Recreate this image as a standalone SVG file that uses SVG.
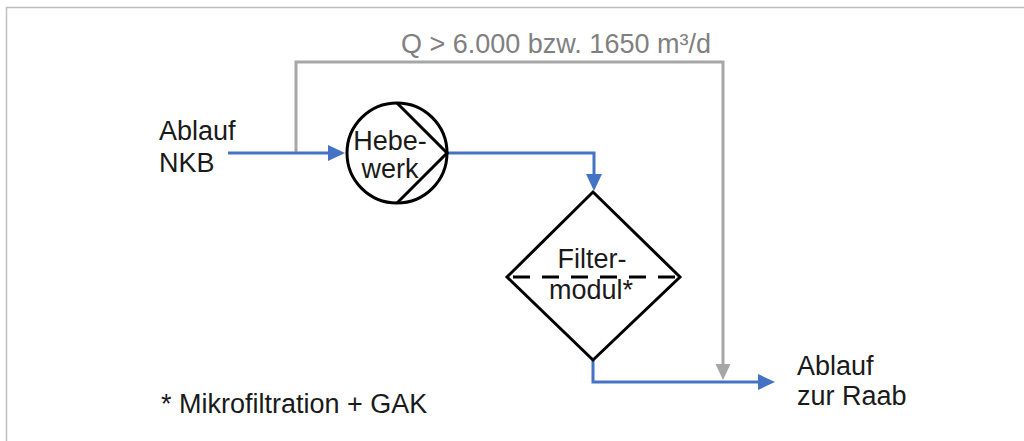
<svg xmlns="http://www.w3.org/2000/svg" width="1024" height="441" viewBox="0 0 1024 441">
  <style>
    text { font-family: "Liberation Sans", Arial, sans-serif; font-size: 27px; fill: #1a1a1a; }
    .mid { text-anchor: middle; }
    .gray-t { fill: #808080; }
    .shape { fill: #ffffff; stroke: #000000; stroke-width: 3; }
    .blue { fill: none; stroke: #4472c4; stroke-width: 3; }
    .gray { fill: none; stroke: #a6a6a6; stroke-width: 3; }
  </style>
  <defs>
    <marker id="ab" markerUnits="userSpaceOnUse" markerWidth="18" markerHeight="16" refX="0" refY="8" orient="auto" overflow="visible">
      <path d="M0,0 L17,8 L0,16 z" fill="#4472c4"/>
    </marker>
    <marker id="ag" markerUnits="userSpaceOnUse" markerWidth="16" markerHeight="15" refX="0" refY="7.5" orient="auto" overflow="visible">
      <path d="M0,0 L16,7.5 L0,15 z" fill="#a6a6a6"/>
    </marker>
  </defs>
  <rect x="0" y="0" width="1024" height="441" fill="#ffffff"/>
  <rect x="6.5" y="7.5" width="1100" height="500" fill="none" stroke="#bfbfbf" stroke-width="1.5"/>

  <g id="connectors">
    <path class="gray" d="M296,153 V62 H723 V364" marker-end="url(#ag)"/>
    <path class="blue" d="M228,153 H328" marker-end="url(#ab)"/>
    <path class="blue" d="M448,153 H594 V174" marker-end="url(#ab)"/>
    <path class="blue" d="M593,360 V382 H758" marker-end="url(#ab)"/>
  </g>

  <g id="bypass-label">
    <text class="gray-t" x="401" y="53">Q &gt; 6.000 bzw. 1650 m³/d</text>
  </g>

  <g id="inlet">
    <text x="159" y="140">Ablauf</text>
    <text x="159" y="172">NKB</text>
  </g>

  <g id="hebewerk">
    <circle class="shape" cx="397" cy="153" r="50"/>
    <path d="M397,103 L447,153 L397,203" fill="none" stroke="#000000" stroke-width="3"/>
    <text class="mid" x="390" y="150">Hebe-</text>
    <text class="mid" x="390" y="178">werk</text>
  </g>

  <g id="filtermodul">
    <path class="shape" d="M593,192 L680,277 L593,360 L507,277 z"/>
    <line x1="509" y1="277" x2="679" y2="277" stroke="#000000" stroke-width="3" stroke-dasharray="17 12" stroke-dashoffset="-4"/>
    <text class="mid" x="592" y="268">Filter-</text>
    <text class="mid" x="591" y="299">modul*</text>
  </g>

  <g id="outlet">
    <text x="797" y="375">Ablauf</text>
    <text x="797" y="405">zur Raab</text>
  </g>

  <g id="footnote">
    <text x="161" y="413">* Mikrofiltration + GAK</text>
  </g>
</svg>
